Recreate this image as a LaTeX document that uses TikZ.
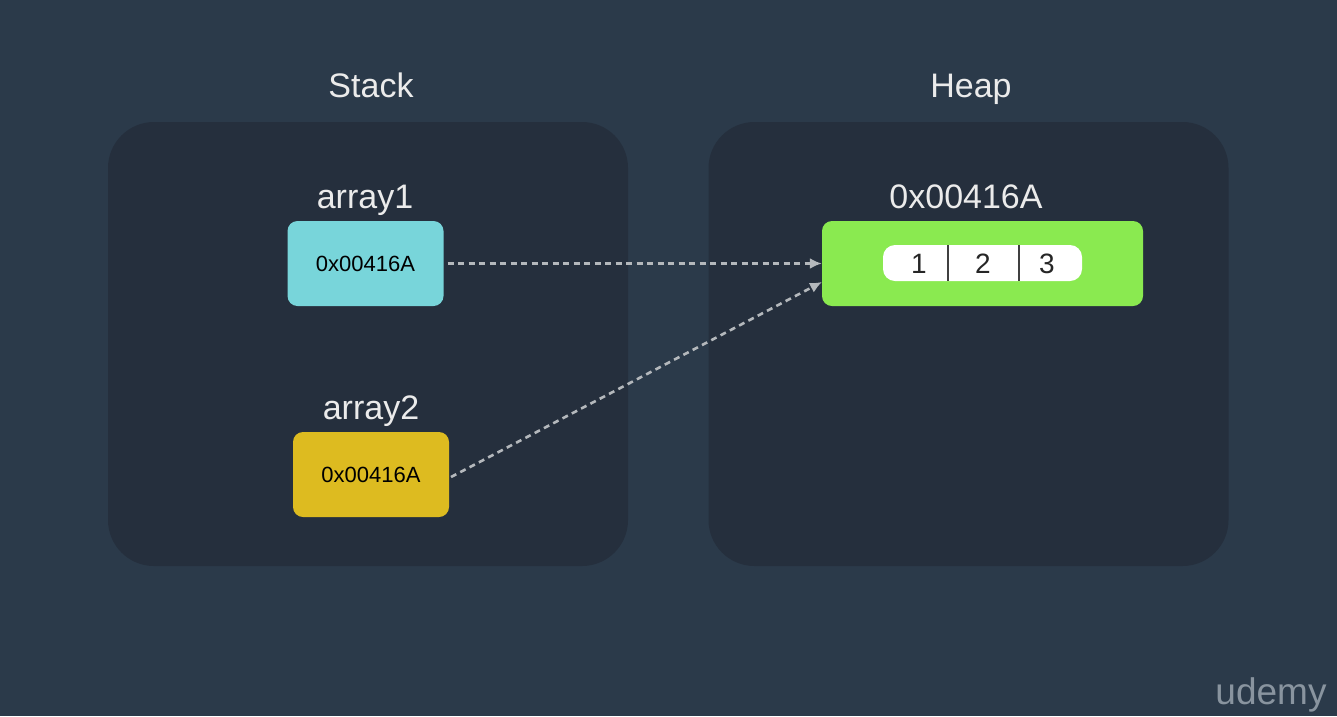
\documentclass[tikz,border=0pt]{standalone}
\usepackage{fontspec}
\setmainfont{Liberation Sans}
\usetikzlibrary{arrows.meta,positioning}
\definecolor{bgblue}{HTML}{2B3A4A}
\definecolor{panelblue}{HTML}{252F3D}
\definecolor{teal}{HTML}{78D5DA}
\definecolor{gold}{HTML}{DDBB20}
\definecolor{lime}{HTML}{8AEA50}
\definecolor{linkgray}{HTML}{B4B8BC}
\definecolor{logogray}{HTML}{89949F}
\tikzset{
    panel/.style={
           rectangle,
           rounded corners=46pt,
           fill=panelblue,
           minimum width=520pt,
           minimum height=444pt,
           },
    heading/.style={
           text=white!92!black,
           font=\fontsize{34}{38}\selectfont,
           inner sep=0pt,
           anchor=base,
           },
    block/.style={
           rectangle,
           rounded corners=10pt,
           minimum height=85pt,
           text=black,
           font=\fontsize{22}{26}\selectfont,
           },
    link/.style={
           -{Latex[length=12pt,width=11pt]},
           linkgray,
           line width=2.6pt,
           dash pattern=on 6pt off 4.5pt,
           },
    digit/.style={
           text=black!85,
           font=\fontsize{28}{32}\selectfont,
           inner sep=0pt,
           },
}
\begin{document}
\begin{tikzpicture}[x=1pt,y=-1pt]
	\useasboundingbox[fill=bgblue] (0,0) rectangle (1337,716);

	\node[panel] (stack) at (368,344) {};
	\node[panel] (heap) at (968.5,344) {};
	\node[heading] (stacktitle) at (371,97) {Stack};
	\node[heading] (heaptitle) at (971,97) {Heap};

	\node[block,fill=teal,minimum width=156pt] (array1) at (365.5,263.5) {0x00416A};
	\node[block,fill=gold,minimum width=156pt] (array2) at (371,474.5) {0x00416A};
	\node[block,fill=lime,minimum width=321pt] (object) at (982.5,263.5) {};

	\node[heading] (array1name) at (365,208) {array1};
	\node[heading] (array2name) at (371,419) {array2};
	\node[heading] (objectname) at (966,208) {0x00416A};

	\node[fill=white,rounded corners=12pt,minimum width=199pt,minimum height=36pt] (cells) at (982.5,263) {};
	\node[digit] (one) at (919,264) {1};
	\node[digit] (two) at (983,264) {2};
	\node[digit] (three) at (1047,264) {3};

	\coordinate (div1) at (948,245);
	\coordinate (div2) at (1019,245);
	\coordinate (start2) at (451,477);
	\coordinate (end2) at (822,282);
	\draw[black!75,line width=1.4pt] (div1) -- (div1 |- cells.south);
	\draw[black!75,line width=1.4pt] (div2) -- (div2 |- cells.south);

	\path[link,shorten <=4pt] (array1) edge (object);
	\path[link] (start2) edge (end2);
	\node[text=logogray,font=\fontsize{37}{40}\selectfont,inner sep=0pt,anchor=base] (logo) at (1271,704) {udemy};
\end{tikzpicture}
\end{document}
